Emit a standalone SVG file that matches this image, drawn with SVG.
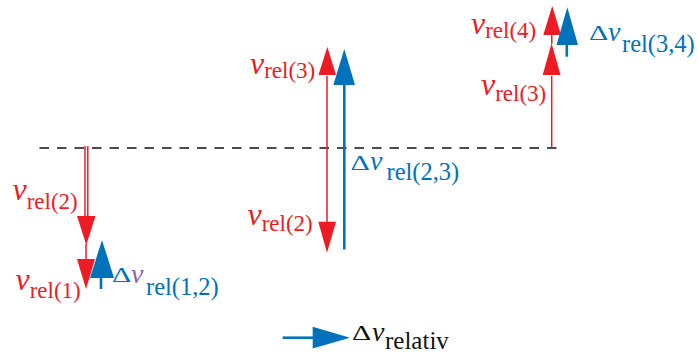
<svg xmlns="http://www.w3.org/2000/svg" width="698" height="354" viewBox="0 0 698 354">
<style>
.r{fill:#ED1C24}
.b{fill:#0072BC}
.rl{stroke:#ED1C24;stroke-width:1.5;fill:none}
.bl{stroke:#0072BC;stroke-width:2.6;fill:none}
.v{font-style:italic;font-size:32px}
.vd{font-style:italic;font-size:28px}
.s{font-size:23px;font-style:normal}
.sd{font-size:24.5px}
.d{font-size:20px}
</style>
<rect width="698" height="354" fill="#fff"/>
<g id="baseline">
<line x1="39.5" y1="148" x2="560" y2="148" stroke="#111" stroke-width="1.3" stroke-dasharray="9.5 8"/>
</g>
<g id="connectors">
<line class="rl" x1="85" y1="146" x2="85" y2="217" stroke-width="1.2"/>
<line class="rl" x1="87.8" y1="146" x2="87.8" y2="217" stroke-width="1.2"/>
<polygon class="r" points="77,216 95.5,216 86.3,245"/>
<line class="rl" x1="86" y1="244" x2="86" y2="260"/>
<polygon class="r" points="77,259 95,259 86,289"/>
<line class="bl" x1="101" y1="289" x2="101" y2="276"/>
<polygon class="b" points="90,278 114,278 102,240"/>
<line class="rl" x1="327" y1="148" x2="327" y2="76"/>
<polygon class="r" points="318.5,75 336,75 327.3,46.7"/>
<line class="rl" x1="327" y1="148" x2="327" y2="223"/>
<polygon class="r" points="318.3,221.7 336,221.7 327,252.7"/>
<line class="bl" x1="344.3" y1="249.5" x2="344.3" y2="84"/>
<polygon class="b" points="333.3,85 355,85 344.3,49"/>
<line class="rl" x1="551.7" y1="148" x2="551.7" y2="76"/>
<polygon class="r" points="542.7,75 560.5,75 551.6,43.3"/>
<line class="rl" x1="551.8" y1="44" x2="551.8" y2="34"/>
<polygon class="r" points="543.3,35 561,35 552.2,6"/>
<line class="bl" x1="566.8" y1="56.7" x2="566.8" y2="44"/>
<polygon class="b" points="556.5,45 578,45 567.3,7.3"/>
<line class="bl" x1="282.7" y1="337.7" x2="314" y2="337.7"/>
<polygon class="b" points="312.7,326.7 312.7,348.5 350,337.7"/>
</g>
<g id="label-vrel2-left" class="r" font-family="Liberation Serif, serif">
<text x="12.5" y="200" class="v">v<tspan class="s" dy="9">rel(2)</tspan></text>
</g>
<g id="label-vrel1" class="r" font-family="Liberation Serif, serif">
<text x="15.5" y="290" class="v">v<tspan class="s" dy="8">rel(1)</tspan></text>
</g>
<g id="label-dv12" class="b" font-family="Liberation Serif, serif">
<text class="d" transform="translate(112,282) scale(1.5,1)">Δ</text>
<text x="131" y="283" class="vd" fill="#8E63B0">v</text>
<text x="146" y="295" class="sd">rel(1,2)</text>
</g>
<g id="label-vrel3-mid" class="r" font-family="Liberation Serif, serif">
<text x="250" y="73.5" class="v">v<tspan class="s" dy="4.5">rel(3)</tspan></text>
</g>
<g id="label-vrel2-mid" class="r" font-family="Liberation Serif, serif">
<text x="247.5" y="225" class="v">v<tspan class="s" dy="6">rel(2)</tspan></text>
</g>
<g id="label-dv23" class="b" font-family="Liberation Serif, serif">
<text class="d" transform="translate(350.5,170) scale(1.5,1)">Δ</text>
<text x="370" y="170" class="vd">v</text>
<text x="386.5" y="180" class="sd">rel(2,3)</text>
</g>
<g id="label-vrel4" class="r" font-family="Liberation Serif, serif">
<text x="471" y="33.5" class="v">v<tspan class="s" dy="4.5">rel(4)</tspan></text>
</g>
<g id="label-vrel3-right" class="r" font-family="Liberation Serif, serif">
<text x="481" y="95" class="v">v<tspan class="s" dy="6">rel(3)</tspan></text>
</g>
<g id="label-dv34" class="b" font-family="Liberation Serif, serif">
<text class="d" transform="translate(589,40) scale(1.5,1)">Δ</text>
<text x="608" y="41" class="vd">v</text>
<text x="622" y="52" class="sd">rel(3,4)</text>
</g>
<g id="legend" fill="#111" font-family="Liberation Serif, serif">
<text class="d" transform="translate(352,340) scale(1.5,1)">Δ</text>
<text x="372" y="341" class="vd">v</text>
<text x="385" y="349" font-size="25">relativ</text>
</g>
</svg>
